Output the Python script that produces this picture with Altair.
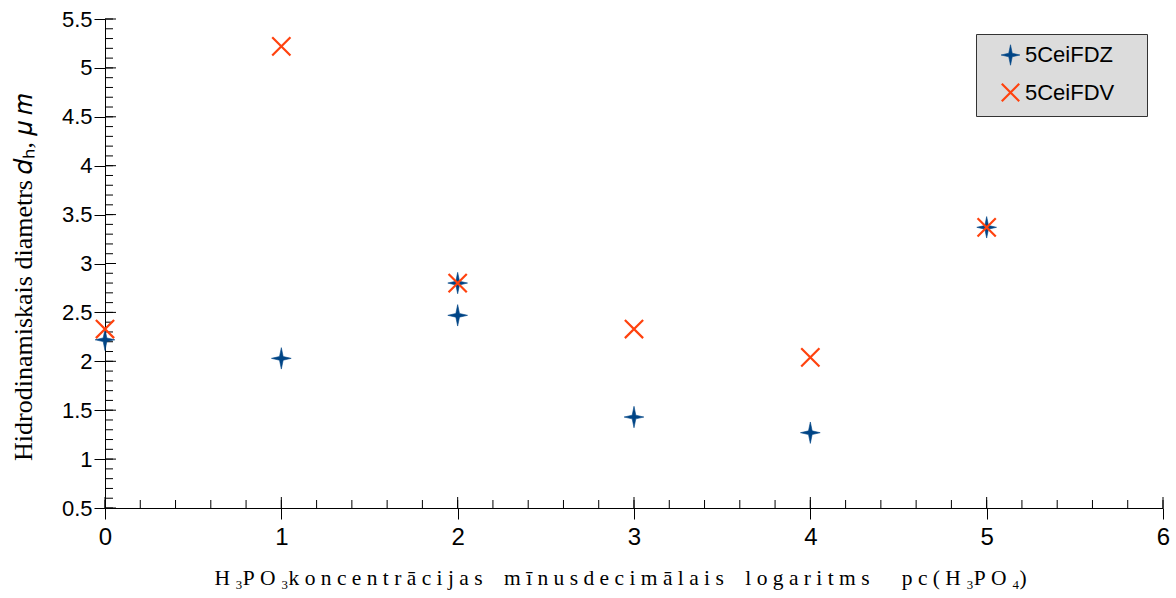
import altair as alt
import pandas as pd

# Measured hydrodynamic diameters for the two sample series
x_fdz = [0, 1, 2, 2, 3, 4, 5]
y_fdz = [2.22, 2.03, 2.47, 2.80, 1.43, 1.27, 3.37]
x_fdv = [0, 1, 2, 3, 4, 5]
y_fdv = [2.33, 5.22, 2.80, 2.33, 2.04, 3.37]
series_names = ["5CeiFDZ", "5CeiFDV"]
series_colors = ["#004586", "#ff420e"]

x_major = [0, 1, 2, 3, 4, 5, 6]
y_major = [0.5, 1, 1.5, 2, 2.5, 3, 3.5, 4, 4.5, 5, 5.5]
x_minor = [round(i * 0.2, 1) for i in range(31)]
y_minor = [round(0.5 + i * 0.1, 1) for i in range(51)]

W, H = 1058, 489

df = pd.DataFrame(
    {"x": x_fdz + x_fdv,
     "y": y_fdz + y_fdv,
     "series": [series_names[0]] * len(x_fdz) + [series_names[1]] * len(x_fdv)}
)

star = "M0,-1L0.17,-0.17L0.92,0L0.17,0.17L0,1L-0.17,0.17L-0.92,0L-0.17,-0.17Z"
cross = "M-0.85,-0.85L0.85,0.85M-0.85,0.85L0.85,-0.85"

xscale = alt.Scale(domain=[0, 6], nice=False, zero=False)
yscale = alt.Scale(domain=[0.5, 5.5], nice=False, zero=False)

x_title = ("H\u00a0\u2083P\u00a0O\u00a0\u2083k\u00a0o\u00a0n\u00a0c\u00a0e\u00a0n\u00a0t\u00a0r\u00a0ā\u00a0c\u00a0i\u00a0j\u00a0a\u00a0s\u2003"
           "m\u00a0ī\u00a0n\u00a0u\u00a0s\u00a0d\u00a0e\u00a0c\u00a0i\u00a0m\u00a0ā\u00a0l\u00a0a\u00a0i\u00a0s\u2003"
           "l\u00a0o\u00a0g\u00a0a\u00a0r\u00a0i\u00a0t\u00a0m\u00a0s\u2003\u2002p\u00a0c\u00a0(\u00a0H\u00a0\u2083P\u00a0O\u00a0\u2084)")
y_title = "Hidrodinamiskais diametrs 𝑑ₕ, 𝜇 𝑚"

points = alt.Chart(df).mark_point(opacity=1, size=460).encode(
    x=alt.X("x:Q", scale=xscale,
            axis=alt.Axis(values=x_major, format="d", labelFlush=False,
                          labelFontSize=24, labelPadding=6,
                          title=x_title, titleFont="Liberation Sans Narrow",
                          titleFontSize=21.5, titleFontWeight="normal", titlePadding=18,
                          titleX=515)),
    y=alt.Y("y:Q", scale=yscale,
            axis=alt.Axis(values=y_major, format="~g", labelFontSize=22,
                          title=y_title, titleFont="Liberation Serif", titleFontSize=26,
                          titleFontWeight="normal", titlePadding=25, labelPadding=2,
                          titleY=258)),
    shape=alt.Shape("series:N", scale=alt.Scale(domain=series_names, range=[star, cross]),
                    title=None),
    color=alt.Color("series:N", scale=alt.Scale(domain=series_names, range=series_colors),
                    title=None,
                    legend=alt.Legend(orient="none", legendX=871, legendY=15,
                                      fillColor="#dcdcdc", strokeColor="#333333",
                                      padding=10, rowPadding=12, labelFontSize=22,
                                      labelFont="Liberation Sans", labelColor="black",
                                      labelLimit=400,
                                      symbolSize=420, symbolOffset=13, labelOffset=3,
                                      labelExpr="datum.label + '\u00a0\u2800'")),
    fill=alt.Fill("series:N", scale=alt.Scale(domain=series_names,
                                              range=["#004586", "transparent"]),
                  title=None),
    strokeWidth=alt.StrokeWidth("series:N", scale=alt.Scale(domain=series_names,
                                                            range=[0.6, 2.2]),
                                title=None),
)

# Inner tick marks along both axes
ymin_df = pd.DataFrame({"v": y_minor})
ymaj_df = pd.DataFrame({"v": y_major})
xmin_df = pd.DataFrame({"v": x_minor})
xmaj_df = pd.DataFrame({"v": x_major})

y_minor_ticks = alt.Chart(ymin_df).mark_rule(color="black", strokeWidth=1).encode(
    y=alt.Y("v:Q", scale=yscale), x=alt.value(0), x2=alt.value(8))
y_major_ticks = alt.Chart(ymaj_df).mark_rule(color="black", strokeWidth=1).encode(
    y=alt.Y("v:Q", scale=yscale), x=alt.value(0), x2=alt.value(11))
x_minor_ticks = alt.Chart(xmin_df).mark_rule(color="black", strokeWidth=1).encode(
    x=alt.X("v:Q", scale=xscale), y=alt.value(H), y2=alt.value(H - 8))
x_major_ticks = alt.Chart(xmaj_df).mark_rule(color="black", strokeWidth=1).encode(
    x=alt.X("v:Q", scale=xscale), y=alt.value(H), y2=alt.value(H - 11))

chart = alt.layer(
    y_minor_ticks, y_major_ticks, x_minor_ticks, x_major_ticks, points
).properties(
    width=W, height=H,
    autosize=alt.AutoSizeParams(type="none"),
    padding={"left": 105, "top": 19, "right": 13, "bottom": 90},
    background="white",
).configure_view(
    stroke=None
).configure_axis(
    grid=False, domainColor="black", tickColor="black", tickSize=11,
    labelFont="Liberation Sans", labelColor="black",
    titleColor="black", domainWidth=1, tickWidth=1,
)

chart.save("out.html", embed_options={"renderer": "svg", "actions": False})
